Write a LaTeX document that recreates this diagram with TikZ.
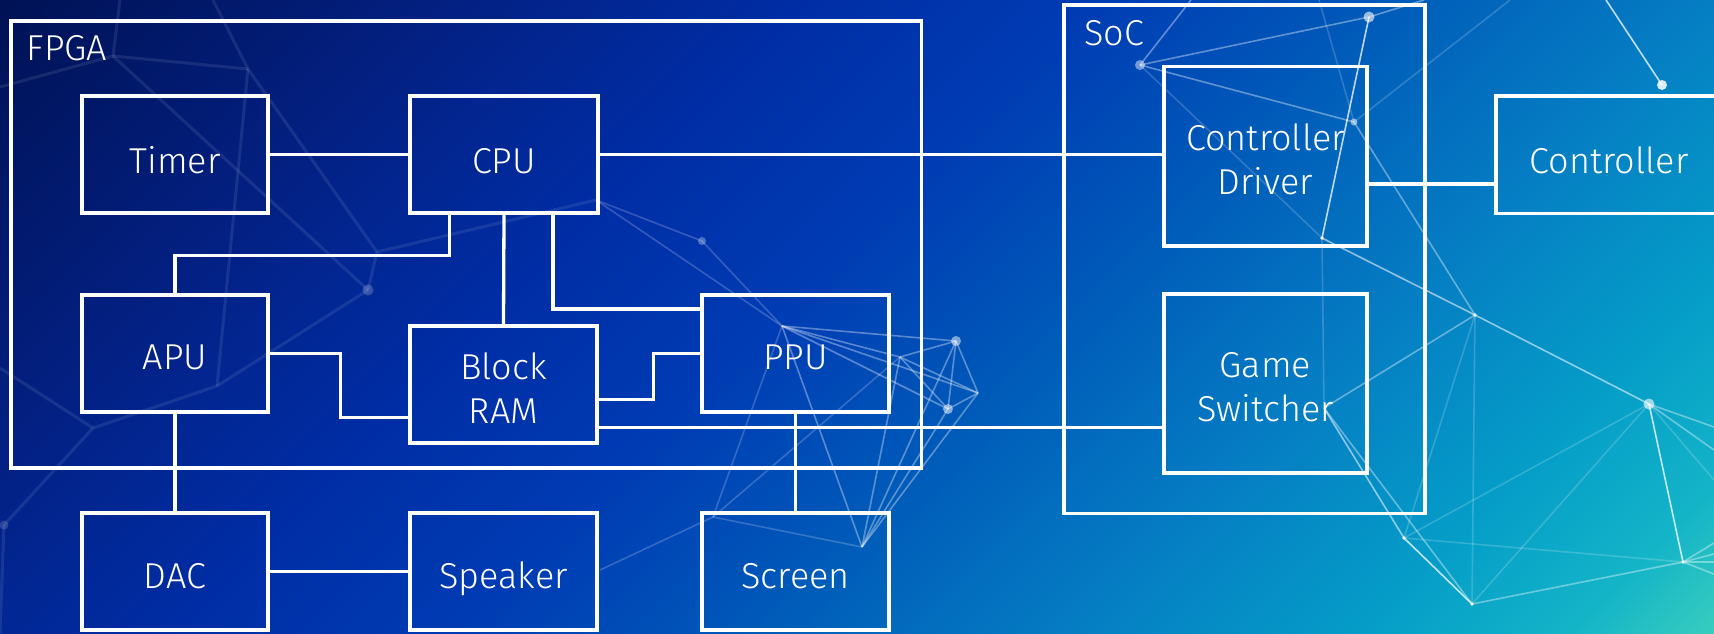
\documentclass[tikz,border=0pt]{standalone}
\usepackage{fontspec}
\IfFontExistsTF{Fira Sans Book}{\setmainfont{Fira Sans Book}}{\IfFontExistsTF{Fira Sans Light}{\setmainfont{Fira Sans Light}}{\setmainfont{Fira Sans}}}
\definecolor{bgA}{RGB}{0,18,85}
\definecolor{bgB}{RGB}{3,32,130}
\definecolor{bgC}{RGB}{0,45,165}
\definecolor{bgD}{RGB}{0,60,180}
\definecolor{bgE}{RGB}{0,92,185}
\definecolor{bgF}{RGB}{5,125,195}
\definecolor{bgG}{RGB}{5,158,200}
\definecolor{bgH}{RGB}{20,180,200}
\definecolor{bgI}{RGB}{55,205,190}
\pgfdeclarehorizontalshading{bgshade}{100bp}{color(0bp)=(bgA); color(25bp)=(bgA); color(34.59bp)=(bgB); color(42.04bp)=(bgC); color(48.43bp)=(bgD); color(54.83bp)=(bgE); color(61.22bp)=(bgF); color(67.61bp)=(bgG); color(71.87bp)=(bgH); color(75bp)=(bgI); color(100bp)=(bgI)}
\tikzset{
  blk/.style={draw=white, line width=3.3pt, minimum width=#1, inner sep=0pt, line join=miter},
  wire/.style={draw=white, line width=3.3pt},
  lbl/.style={text=white, inner sep=0pt, anchor=base, align=center, font=\fontsize{36}{44}\selectfont},
  pb/.style={draw=white, line width=1.6pt, opacity=#1},
  pl/.style={draw=white, line width=3pt, opacity=0.09},
  pdot/.style={fill=white, opacity=#1}
}
\begin{document}
\begin{tikzpicture}[x=1pt,y=-1pt]
\useasboundingbox (0,0) rectangle (1714,633);
% background
\begin{scope}
\clip (0,0) rectangle (1714,633);
\begin{scope}[transform canvas={rotate=-45}]
\shade[shading=bgshade] (0pt,-450pt) rectangle (1660pt,1215pt);
\end{scope}
\end{scope}
% plexus points
\coordinate (R1) at (1369,17);
\coordinate (R2) at (1140,65);
\coordinate (R3) at (1354,122);
\coordinate (R4) at (1322,238);
\coordinate (R5) at (1475,315);
\coordinate (R6) at (1324,408);
\coordinate (R7) at (1404,538);
\coordinate (R8) at (1472,604);
\coordinate (R9) at (1649,404);
\coordinate (R10) at (1683,562);
\coordinate (R11) at (1662,85);
\coordinate (Ta) at (1606,0);
\coordinate (Tb) at (1424,0);
\coordinate (Tc) at (1191,0);
\coordinate (Td) at (1319,0);
\coordinate (Te) at (1510,0);
\coordinate (E1) at (1714,427);
\coordinate (E2) at (1714,450);
\coordinate (E3) at (1714,480);
\coordinate (E4) at (1714,543);
\coordinate (E5) at (1714,554);
\coordinate (E6) at (1714,562);
\coordinate (E7) at (1714,574);
\coordinate (MA) at (782,326);
\coordinate (MB) at (956,341);
\coordinate (MC) at (900,357);
\coordinate (MD) at (978,393);
\coordinate (ME) at (948,409);
\coordinate (MF) at (713,517);
\coordinate (MG) at (862,547);
\coordinate (MH) at (702,241);
\coordinate (MI) at (596,200);
\coordinate (ML) at (600,570);
\coordinate (L1) at (248,69);
\coordinate (L2) at (113,56);
\coordinate (L3) at (377,252);
\coordinate (L4) at (368,290);
\coordinate (L5) at (217,386);
\coordinate (L6) at (93,428);
\coordinate (L7) at (4,525);
\coordinate (La) at (0,87);
\coordinate (Lb) at (120,0);
\coordinate (Lc) at (213,0);
\coordinate (Ld) at (0,368);
\coordinate (Le) at (0,633);
% left faint network
\foreach \a/\b in {L2/L1,L1/L3,L3/L4,L4/L5,L5/L6,L6/L7,L2/La,Lb/L2,Lc/L1,L2/L4,L6/Ld,L7/Le,L3/MI,L1/L5}
  \draw[pl] (\a) -- (\b);
% middle network
\foreach \a/\b in {MA/MB,MA/MC,MA/MD,MA/ME,MC/MB,MC/MD,MC/ME,MB/MD,MB/ME,MD/ME,MG/MC,MG/MB,MG/MD,MG/ME,MA/MG}
  \draw[pb=0.35] (\a) -- (\b);
\foreach \a/\b in {MF/MG,MF/MA,MH/MA,MF/ML,MH/MI,MI/MA,MF/MC}
  \draw[pb=0.2] (\a) -- (\b);
% right network
\foreach \a/\b in {R1/R4,R7/R8,R9/R10,R11/Ta}
  \draw[pb=0.75] (\a) -- (\b);
\foreach \a/\b in {R4/R5,R5/R9,R6/R7}
  \draw[pb=0.55] (\a) -- (\b);
\foreach \a/\b in {R1/R2,R2/R3,R3/R5,R5/R6,R8/R10,R9/E1,R9/E2,R10/E4,R10/E5,R10/E6,R10/E7,R1/Tb,R2/Tc,R6/R8}
  \draw[pb=0.38] (\a) -- (\b);
\foreach \a/\b in {R2/R4,R4/R6,R5/R7,R5/R8,R9/R8,R9/R7,R7/R10,R3/Td,R3/Te,R9/E3}
  \draw[pb=0.18] (\a) -- (\b);
\fill[pdot=0.6] (R1) circle (5.5pt);
\fill[pdot=0.45] (R2) circle (5pt);
\fill[pdot=0.5] (R3) circle (3.5pt);
\fill[pdot=0.6] (R9) circle (5.5pt);
\fill[pdot=0.85] (R11) circle (5pt);
\fill[pdot=0.5] (MB) circle (5pt);
\fill[pdot=0.5] (ME) circle (5pt);
\fill[pdot=0.3] (MH) circle (4pt);
\fill[pdot=0.2] (L4) circle (5.5pt);
\fill[pdot=0.15] (L7) circle (4.5pt);
\foreach \p in {R4,R5,R7,R8,R10}
  \fill[pdot=0.9] (\p) circle (1.8pt);
% containers
\node[blk=910.5pt, minimum height=447pt] (fpga) at (466.25,244.5) {};
\node[blk=361pt, minimum height=508.5pt] (soc) at (1244.5,259.25) {};
\node[lbl, anchor=base west] (fpgat) at (26.5,60.7) {FPGA};
\node[lbl, anchor=base west] (soct) at (1084,45.5) {SoC};
% blocks
\node[blk=186pt, minimum height=117pt] (timer) at (175,154.5) {};
\node[blk=188pt, minimum height=117pt] (cpu) at (504,154.5) {};
\node[blk=186pt, minimum height=117pt] (apu) at (175,353.5) {};
\node[blk=187pt, minimum height=117pt] (bram) at (503.5,384.5) {};
\node[blk=187pt, minimum height=117pt] (ppu) at (795.5,353.5) {};
\node[blk=186pt, minimum height=117pt] (dac) at (175,571.5) {};
\node[blk=187pt, minimum height=117pt] (spk) at (503.5,571.5) {};
\node[blk=187pt, minimum height=117pt] (scr) at (795.5,571.5) {};
\node[blk=203pt, minimum height=179.3pt] (cd) at (1265.5,156.3) {};
\node[blk=203pt, minimum height=179pt] (gs) at (1265.5,383.5) {};
\node[blk=226pt, minimum height=117.5pt] (ctrl) at (1609,154.75) {};
% labels (base = last line)
\node[lbl] (timert) at (175,173.3) {Timer};
\node[lbl] (cput) at (504,173.3) {CPU};
\node[lbl] (aput) at (175,369.5) {APU};
\node[lbl] (bramt) at (503.5,423) {Block\\RAM};
\node[lbl] (ppUt) at (795.5,369.3) {PPU};
\node[lbl] (dact) at (175,588.3) {DAC};
\node[lbl] (spkt) at (503.5,588.3) {Speaker};
\node[lbl] (scrt) at (795.5,588.3) {Screen};
\node[lbl] (cdt) at (1265.5,194) {Controller\\Driver};
\node[lbl] (gst) at (1265.5,421.8) {Game\\Switcher};
\node[lbl] (ctrlt) at (1609,173) {Controller};
% connectors
\draw[wire] (timer.east) -- (cpu.west);
\draw[wire] (cpu.east) -- (cpu.east -| cd.west);
\draw[wire] ([xshift=-54.3pt]cpu.south) |- ++(0,41) -| (apu.north);
\draw[wire] (cpu.south) -- (bram.north);
\draw[wire] ([xshift=49pt]cpu.south) |- ([yshift=44.5pt]ppu.west);
\draw[wire] (apu.east) -- ++(70.7,0) |- ([yshift=-33.2pt]bram.west);
\draw[wire] ([yshift=-15pt]bram.east) -- ++(55,0) |- (ppu.west);
\draw[wire] ([yshift=-43.2pt]bram.east) -- ([yshift=-43.2pt]bram.east -| gs.west);
\draw[wire] (apu.south) -- (dac.north);
\draw[wire] (dac.east) -- (spk.west);
\draw[wire] (ppu.south) -- (scr.north);
\draw[wire] ([yshift=-27.7pt]cd.east) -- ([yshift=-27.7pt]cd.east -| ctrl.west);
\end{tikzpicture}
\end{document}
